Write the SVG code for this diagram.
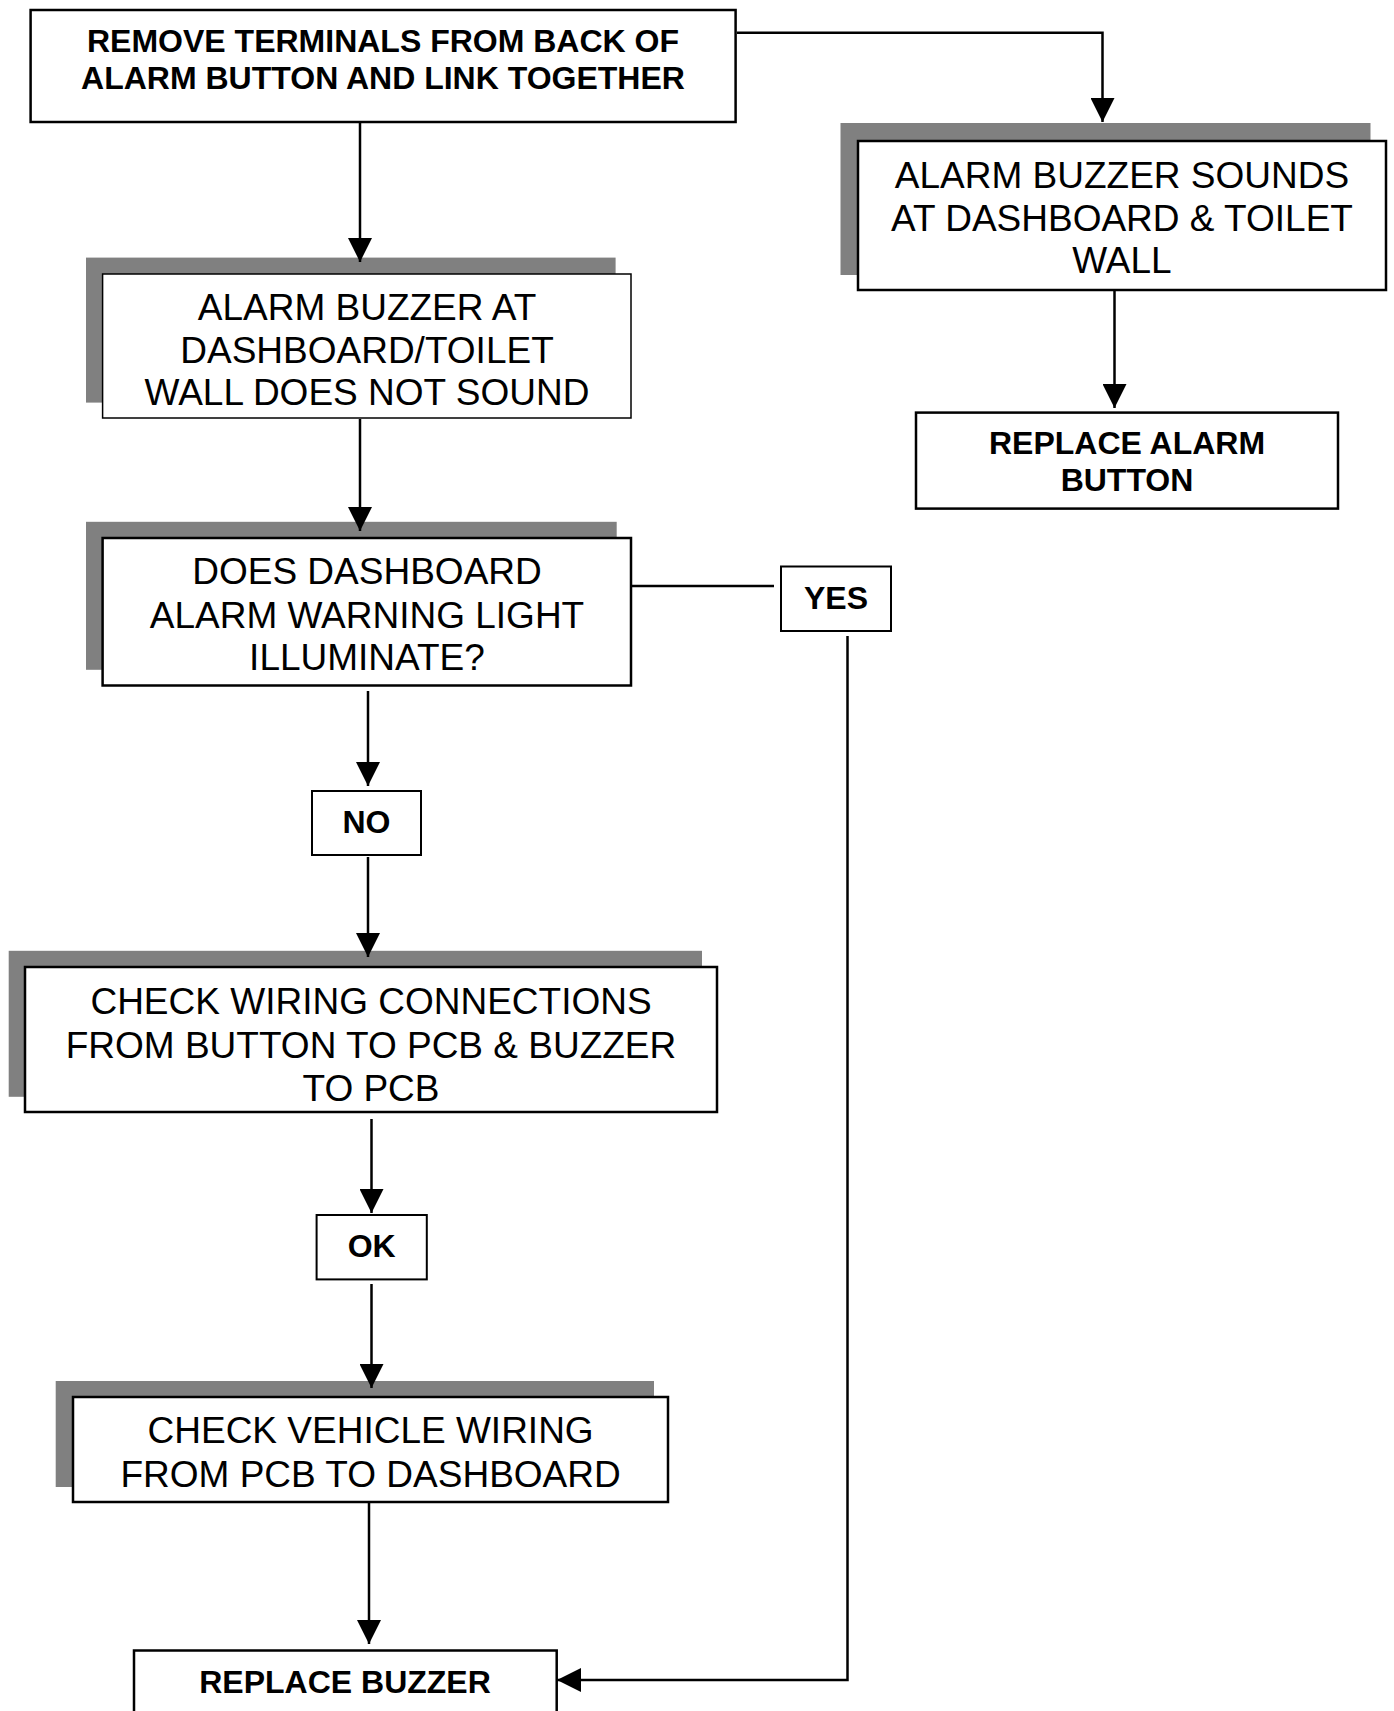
<svg xmlns="http://www.w3.org/2000/svg" width="1394" height="1711" viewBox="0 0 1394 1711">
<style>
.box{fill:#fff;stroke:#000;stroke-width:2.5}
.thin{stroke-width:1.5}
.sh{fill:#808080}
.t{font-family:"Liberation Sans",Arial,sans-serif;font-size:37px;text-anchor:middle;fill:#000}
.b{font-family:"Liberation Sans",Arial,sans-serif;font-size:32px;font-weight:bold;text-anchor:middle;fill:#000}
.c{fill:none;stroke:#000;stroke-width:2.5}
</style>
<defs>
<marker id="ah" markerUnits="userSpaceOnUse" markerWidth="24" markerHeight="24" viewBox="0 0 22 22" refX="22" refY="11" orient="auto">
<path d="M0,0 L22,11 L0,22 Z" fill="#000"/>
</marker>
</defs>
<rect width="1394" height="1711" fill="#fff"/>

<g id="n1">
<rect class="box" x="30.6" y="10" width="705" height="112"/>
<text class="b" x="383" y="52">REMOVE TERMINALS FROM BACK OF</text>
<text class="b" x="383" y="89">ALARM BUTTON AND LINK TOGETHER</text>
</g>

<g id="n2">
<rect class="sh" x="840.5" y="123" width="530" height="152"/>
<rect class="box" x="858" y="141" width="528" height="149"/>
<text class="t" x="1122" y="188">ALARM BUZZER SOUNDS</text>
<text class="t" x="1122" y="230.5">AT DASHBOARD &amp; TOILET</text>
<text class="t" x="1122" y="273">WALL</text>
</g>

<g id="n3">
<rect class="box" x="916" y="412.6" width="422" height="96"/>
<text class="b" x="1127" y="453.5">REPLACE ALARM</text>
<text class="b" x="1127" y="490.5">BUTTON</text>
</g>

<g id="n4">
<rect class="sh" x="86" y="257.6" width="529.6" height="145"/>
<rect class="box thin" x="102.6" y="274" width="528.4" height="144"/>
<text class="t" x="367" y="320">ALARM BUZZER AT</text>
<text class="t" x="367" y="362.5">DASHBOARD/TOILET</text>
<text class="t" x="367" y="405">WALL DOES NOT SOUND</text>
</g>

<g id="n5">
<rect class="sh" x="86" y="521.8" width="530.7" height="148"/>
<rect class="box" x="102.6" y="538" width="528.4" height="147.5"/>
<text class="t" x="367" y="584">DOES DASHBOARD</text>
<text class="t" x="367" y="628">ALARM WARNING LIGHT</text>
<text class="t" x="367" y="670">ILLUMINATE?</text>
</g>

<g id="yes">
<rect class="box" x="781" y="566.5" width="110" height="64.5" style="stroke-width:2"/>
<text class="b" x="836" y="608.5">YES</text>
</g>

<g id="no">
<rect class="box" x="312" y="791" width="109" height="64" style="stroke-width:2"/>
<text class="b" x="366.5" y="832.5">NO</text>
</g>

<g id="n6">
<rect class="sh" x="8.7" y="950.8" width="693.3" height="146"/>
<rect class="box" x="25" y="967" width="692" height="145"/>
<text class="t" x="371" y="1014">CHECK WIRING CONNECTIONS</text>
<text class="t" x="371" y="1058">FROM BUTTON TO PCB &amp; BUZZER</text>
<text class="t" x="371" y="1100.5">TO PCB</text>
</g>

<g id="ok">
<rect class="box" x="316.6" y="1215" width="110.2" height="64.4" style="stroke-width:2"/>
<text class="b" x="371.7" y="1257">OK</text>
</g>

<g id="n7">
<rect class="sh" x="55.7" y="1381" width="598.3" height="106"/>
<rect class="box" x="73" y="1397" width="595" height="105"/>
<text class="t" x="370.6" y="1443">CHECK VEHICLE WIRING</text>
<text class="t" x="370.6" y="1487">FROM PCB TO DASHBOARD</text>
</g>

<g id="n8">
<rect class="box" x="134" y="1650.5" width="422.7" height="80"/>
<text class="b" x="345" y="1692.5">REPLACE BUZZER</text>
</g>

<g id="connectors">
<polyline class="c" points="737,32.7 1102.5,32.7 1102.5,122" marker-end="url(#ah)"/>
<line class="c" x1="360" y1="123" x2="360" y2="262" marker-end="url(#ah)"/>
<line class="c" x1="1114.5" y1="291" x2="1114.5" y2="408" marker-end="url(#ah)"/>
<line class="c" x1="360" y1="419" x2="360" y2="531" marker-end="url(#ah)"/>
<line class="c" x1="632" y1="586" x2="774" y2="586"/>
<polyline class="c" points="847.5,636 847.5,1680 557,1680" marker-end="url(#ah)"/>
<line class="c" x1="368" y1="691" x2="368" y2="786" marker-end="url(#ah)"/>
<line class="c" x1="368" y1="857" x2="368" y2="957" marker-end="url(#ah)"/>
<line class="c" x1="371.5" y1="1119" x2="371.5" y2="1213" marker-end="url(#ah)"/>
<line class="c" x1="371.5" y1="1284" x2="371.5" y2="1388" marker-end="url(#ah)"/>
<line class="c" x1="369" y1="1503" x2="369" y2="1644" marker-end="url(#ah)"/>
</g>
</svg>
